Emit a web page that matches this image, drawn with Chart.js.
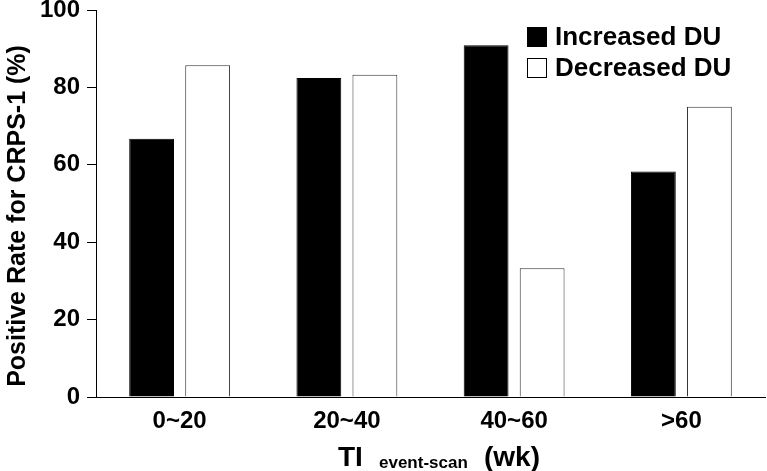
<!DOCTYPE html>
<html>
<head>
<meta charset="utf-8">
<script src="https://cdn.jsdelivr.net/npm/chart.js@4"></script>
<style>
    body { margin: 0; background: #fff; }
    canvas { display: block; }
</style>
</head>
<body>
<canvas id="chart" width="767" height="471"></canvas>
<script>
const categories = ['0~20', '20~40', '40~60', '>60'];
const increasedDU = [66.7, 82.4, 90.9, 58.3];
const decreasedDU = [85.7, 83.3, 33.3, 75.0];
const yTicks = [0, 20, 40, 60, 80, 100];

const FONT = "'Liberation Sans', Arial, sans-serif";

// legend + axis titles drawn by hand (subscript in x title)
const extras = {
    id: 'extras',
    afterDraw(chart) {
        const ctx = chart.ctx;
        ctx.save();
        ctx.fillStyle = '#000';

        // y title
        ctx.translate(18, 216);
        ctx.rotate(-Math.PI / 2);
        ctx.font = 'bold 25px ' + FONT;
        ctx.textAlign = 'center';
        ctx.textBaseline = 'middle';
        ctx.fillText('Positive Rate for CRPS-1 (%)', 0, 0);
        ctx.setTransform(1, 0, 0, 1, 0, 0);

        // x title
        ctx.textAlign = 'left';
        ctx.textBaseline = 'alphabetic';
        ctx.font = 'bold 28px ' + FONT;
        ctx.fillText('TI', 338, 466);
        ctx.font = 'bold 17px ' + FONT;
        ctx.fillText('event-scan', 379, 468);
        ctx.font = 'bold 28px ' + FONT;
        ctx.fillText('(wk)', 484, 466);

        // legend
        chart.data.datasets.forEach((ds, i) => {
            const y = 27 + i * 31;
            ctx.fillStyle = ds.backgroundColor;
            ctx.fillRect(527, y, 20, 20);
            ctx.strokeStyle = '#000';
            ctx.lineWidth = 1;
            ctx.strokeRect(527.5, y + 0.5, 19, 19);
            ctx.fillStyle = '#000';
            ctx.font = 'bold 26px ' + FONT;
            ctx.textBaseline = 'middle';
            ctx.fillText(ds.label, 555, y + 11);
        });
        ctx.restore();
    }
};

new Chart(document.getElementById('chart'), {
    type: 'bar',
    data: {
        labels: categories,
        datasets: [
            {
                label: 'Increased DU',
                data: increasedDU,
                backgroundColor: '#000',
                borderColor: '#000',
                borderWidth: 1,
            },
            {
                label: 'Decreased DU',
                data: decreasedDU,
                backgroundColor: '#fff',
                borderColor: '#333',
                borderWidth: 1,
            }
        ]
    },
    options: {
        responsive: false,
        animation: false,
        events: [],
        barPercentage: 0.8,
        categoryPercentage: 0.67,
        layout: { padding: { top: 10, right: 2, left: 0, bottom: 0 } },
        plugins: {
            legend: { display: false },
            tooltip: { enabled: false },
        },
        scales: {
            x: {
                grid: { drawOnChartArea: false, drawTicks: false },
                border: { color: '#000', width: 1 },
                ticks: {
                    color: '#000',
                    font: { family: FONT, weight: 'bold', size: 24 },
                    padding: 10,
                },
                afterFit: s => { s.height = 74; s.paddingLeft = 0; s.paddingRight = 0; }
            },
            y: {
                min: 0,
                max: 100,
                afterBuildTicks: s => { s.ticks = yTicks.map(v => ({ value: v })); },
                grid: { drawOnChartArea: false, tickLength: 9, color: '#000' },
                border: { color: '#000', width: 1 },
                ticks: {
                    color: '#000',
                    font: { family: FONT, weight: 'bold', size: 24 },
                    padding: 7,
                },
                afterFit: s => { s.width = 96; s.paddingTop = 0; s.paddingBottom = 0; }
            }
        }
    },
    plugins: [extras]
});
</script>
</body>
</html>
